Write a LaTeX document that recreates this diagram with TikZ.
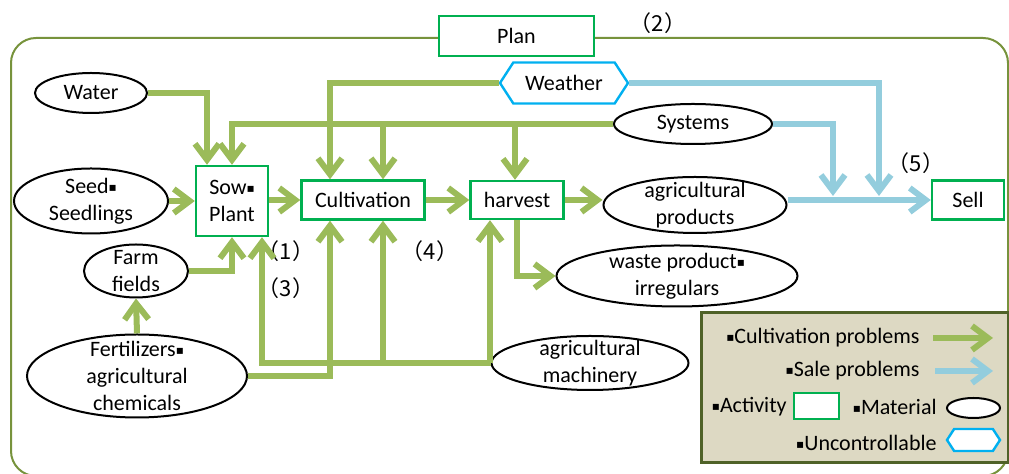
\documentclass[tikz,border=0pt]{standalone}
\usepackage{fontspec}
\setmainfont{Carlito}
\newfontfamily\cjk{Noto Sans CJK JP}
\newfontfamily\dejavu{DejaVu Sans}
\usepackage{tikz}
\usetikzlibrary{arrows.meta, positioning, shapes.geometric, shapes.symbols}
\usepackage{xcolor}

\definecolor{cultgreen}{HTML}{9BBB59}
\definecolor{saleblue}{HTML}{93CDDD}
\definecolor{boxgreen}{HTML}{00B050}
\definecolor{hexblue}{HTML}{00B0F0}
\definecolor{framegreen}{HTML}{77933C}
\definecolor{legendfill}{HTML}{DDD9C3}
\definecolor{legendline}{HTML}{4F6228}

\newcommand{\sq}{\raisebox{0.2ex}{\dejavu\fontsize{6}{6}\selectfont ▪}}
\newcommand{\num}[1]{{\cjk （#1）}}

\tikzset{
  every node/.style={font=\fontsize{11}{13.5}\selectfont},
  activity/.style={draw=boxgreen, line width=1.2pt, fill=white, rectangle, align=center, inner sep=0pt},
  material/.style={draw=black, line width=1pt, fill=white, ellipse, inner sep=0pt},
  uncontrol/.style={draw=hexblue, line width=1.2pt, fill=white, signal, signal from=nowhere,
    signal to=west and east, signal pointer angle=114, inner sep=0pt},
  cult/.style={draw=cultgreen, line width=3pt, -{Straight Barb[length=8pt,width=12pt]}},
  sale/.style={draw=saleblue, line width=3pt, -{Straight Barb[length=8pt,width=12pt]}},
  legtext/.style={anchor=east, inner sep=1pt},
}

\begin{document}
\begin{tikzpicture}[x=0.5pt, y=-0.5pt]
    \useasboundingbox (0,0) rectangle (1009,474);
    % outer frame
    \draw[framegreen, line width=1pt, rounded corners=12.5pt] (11,38) rectangle (1008,476);

    % activities
    \node[activity, minimum width=77.5pt, minimum height=20pt] (plan) at (516.5,36) {Plan};
    \node[activity, minimum width=36pt, minimum height=35pt] (sow) at (232,201) {Sow\sq\\Plant};
    \node[activity, minimum width=61.5pt, minimum height=19.5pt] (cultv) at (363,200) {Cultivation};
    \node[activity, minimum width=46.5pt, minimum height=19pt] (harv) at (517,200) {harvest};
    \node[activity, minimum width=36pt, minimum height=19.5pt] (sell) at (968,200) {Sell};

    % uncontrollable
    \node[uncontrol, minimum width=64pt, minimum height=20.5pt] (weather) at (564,83) {Weather};

    % materials
    \node[material, minimum width=56pt, minimum height=20pt, label=center:Water] (water) at (91,93) {};
    \node[material, minimum width=77pt, minimum height=32.5pt,
      label={[align=center]center:Seed\sq\\Seedlings}] (seed) at (91,201) {};
    \node[material, minimum width=79pt, minimum height=20pt, label=center:Systems] (sys) at (693,124) {};
    \node[material, minimum width=91.5pt, minimum height=28pt,
      label={[align=center]center:agricultural\\products}] (prod) at (695,205) {};
    \node[material, minimum width=52pt, minimum height=26.5pt,
      label={[align=center]center:Farm\\fields}] (farm) at (136,271) {};
    \node[material, minimum width=110pt, minimum height=41.5pt,
      label={[align=center]center:Fertilizers\sq\\agricultural\\chemicals}] (fert) at (137,376) {};
    \node[material, minimum width=120.5pt, minimum height=30.5pt,
      label={[align=center]center:waste product\sq\\irregulars}] (waste) at (677,276) {};
    \node[material, minimum width=98.5pt, minimum height=27pt,
      label={[align=center]center:agricultural\\machinery}] (mach) at (590,363) {};

    % problem numbers
    \node (n1) at (286,251) {\num{1}};
    \node (n2) at (658,23) {\num{2}};
    \node (n3) at (286,288) {\num{3}};
    \node (n4) at (430,251) {\num{4}};
    \node (n5) at (916,163) {\num{5}};

    % cultivation flow
    \draw[cult] (seed.east) -- (sow.west);
    \draw[cult] (sow.east |- cultv.west) -- (cultv.west);
    \draw[cult] (cultv.east) -- (harv.west);
    \draw[cult] (harv.east) -- (harv.east -| prod.west);
    \draw[cult] (water.east) -| ([xshift=-12.5pt]sow.north);
    \draw[cult] (sys.west) -| (sow.north);
    \draw[cult] ([xshift=10pt]cultv.north |- sys.west) -- ([xshift=10pt]cultv.north);
    \draw[cult] ([xshift=-1pt]harv.north |- sys.west) -- ([xshift=-1pt]harv.north);
    \draw[cult] (weather.west) -| ([xshift=-16.5pt]cultv.north);
    \draw[cult] (farm.east) -| (sow.south);
    \draw[cult] (fert.north) -- (farm.south);
    \draw[cult] (fert.east) -| ([xshift=-16.5pt]cultv.south);
    \draw[cult] (mach.west) -| ([xshift=15pt]sow.south);
    \draw[cult] ([xshift=10pt]cultv.south |- mach.west) -- ([xshift=10pt]cultv.south);
    \draw[cult] ([xshift=-13.5pt]harv.south |- mach.west) -- ([xshift=-13.5pt]harv.south);
    \draw[cult] (harv.south) |- (waste.west);

    % sale flow
    \coordinate (jw) at (879,196);
    \coordinate (js) at (833,196);
    \draw[sale] (prod.east |- sell.west) -- (sell.west);
    \draw[sale] (weather.east) -| (jw);
    \draw[sale] (sys.east) -| (js);

    % legend
    \node[draw=legendline, line width=1.5pt, fill=legendfill, minimum width=153.5pt, minimum height=75pt] (legend) at (854.5,388) {};
    \node[legtext] (lcult) at (922,338) {\sq Cultivation problems};
    \coordinate (lcult-a) at (933,338);
    \coordinate (lcult-b) at (993,338);
    \draw[cult] (lcult-a) -- (lcult-b);
    \node[legtext] (lsale) at (922,371) {\sq Sale problems};
    \coordinate (lsale-a) at (935,371);
    \coordinate (lsale-b) at (993,371);
    \draw[sale] (lsale-a) -- (lsale-b);
    \node[legtext] (lact) at (789,407) {\sq Activity};
    \node[activity, minimum width=22.5pt, minimum height=13pt] (lactbox) at (816.5,406) {};
    \node[legtext] (lmat) at (939,407) {\sq Material};
    \node[material, minimum width=26.5pt, minimum height=10pt] (lmatell) at (973.5,408) {};
    \node[legtext] (lunc) at (939,443) {\sq Uncontrollable};
    \node[uncontrol, minimum width=26.5pt, minimum height=11pt] (luncbox) at (973.5,440) {};
\end{tikzpicture}
\end{document}
